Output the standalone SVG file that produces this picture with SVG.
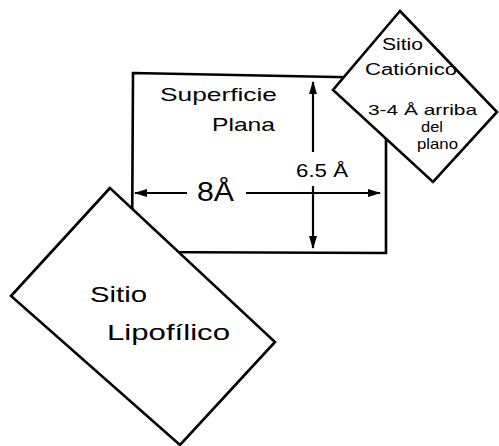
<svg xmlns="http://www.w3.org/2000/svg" width="499" height="446" viewBox="0 0 499 446">
  <defs>
    <style>
      .shape { fill: #fff; stroke: #000; stroke-width: 2.6; stroke-linejoin: miter; }
      .dim { fill: none; stroke: #000; stroke-width: 2.2; }
      .lbl { font-family: "Liberation Sans", "DejaVu Sans", sans-serif; fill: #000; }
    </style>
    <marker id="head" viewBox="0 0 13 8" refX="12" refY="4" markerWidth="13" markerHeight="8" markerUnits="userSpaceOnUse" orient="auto">
      <path d="M0,0 L13,4 L0,8 Z" fill="#000"/>
    </marker>
  </defs>
  <rect width="499" height="446" fill="#fff"/>

  <!-- flat surface -->
  <g id="plane">
    <polygon class="shape" points="133,73 386,78 386,253 132,252"/>
    <text class="lbl" x="160" y="101" font-size="19" textLength="117" lengthAdjust="spacingAndGlyphs">Superficie</text>
    <text class="lbl" x="212" y="131" font-size="19" textLength="63" lengthAdjust="spacingAndGlyphs">Plana</text>
    <text class="lbl" x="197" y="201" font-size="27" textLength="37" lengthAdjust="spacingAndGlyphs">8Å</text>
    <text class="lbl" x="296" y="177" font-size="19" textLength="52" lengthAdjust="spacingAndGlyphs">6.5 Å</text>
  </g>

  <!-- dimension arrows across the surface -->
  <g id="connectors">
    <line class="dim" x1="187" y1="193" x2="135" y2="193" marker-end="url(#head)"/>
    <line class="dim" x1="246" y1="193" x2="380" y2="193" marker-end="url(#head)"/>
    <line class="dim" x1="313" y1="152" x2="313" y2="82" marker-end="url(#head)"/>
    <line class="dim" x1="313" y1="186" x2="313" y2="248" marker-end="url(#head)"/>
  </g>

  <!-- cationic site -->
  <g id="cation">
    <polygon class="shape" points="400,11 333,90 433,182 497,112"/>
    <text class="lbl" x="382" y="50" font-size="16" textLength="41" lengthAdjust="spacingAndGlyphs">Sitio</text>
    <text class="lbl" x="365" y="75" font-size="16" textLength="92" lengthAdjust="spacingAndGlyphs">Catiónico</text>
    <text class="lbl" x="368" y="115" font-size="15" textLength="109" lengthAdjust="spacingAndGlyphs">3-4 Å arriba</text>
    <text class="lbl" x="421" y="132" font-size="15" textLength="22" lengthAdjust="spacingAndGlyphs">del</text>
    <text class="lbl" x="417" y="149" font-size="15" textLength="41" lengthAdjust="spacingAndGlyphs">plano</text>
  </g>

  <!-- lipophilic site -->
  <g id="lipophilic">
    <polygon class="shape" points="110,188 11,296 180,445 275,342"/>
    <text class="lbl" x="90" y="302" font-size="22" textLength="57" lengthAdjust="spacingAndGlyphs">Sitio</text>
    <text class="lbl" x="107" y="340" font-size="22" textLength="123" lengthAdjust="spacingAndGlyphs">Lipofílico</text>
  </g>
</svg>
